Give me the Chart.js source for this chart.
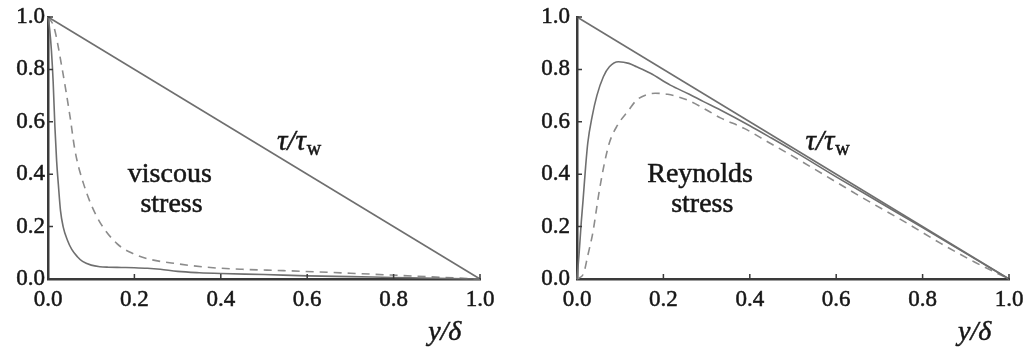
<!DOCTYPE html>
<html>
<head>
<meta charset="utf-8">
<script src="https://cdn.jsdelivr.net/npm/chart.js@4.4.1/dist/chart.umd.min.js"></script>
<style>
  html, body { margin: 0; padding: 0; background: #fff; }
  #wrap { position: relative; width: 1027px; height: 349px; overflow: hidden; }
  .panel { position: absolute; top: 0; }
  canvas { display: block; }
</style>
</head>
<body>
<div id="wrap">
  <div class="panel" style="left:0px"><canvas id="left" width="512" height="349"></canvas></div>
  <div class="panel" style="left:529px"><canvas id="right" width="512" height="349"></canvas></div>
</div>
<script>
// Axis ticks (y/δ and stress ratio share the same 0..1 range)
const tickValues = [0.0, 0.2, 0.4, 0.6, 0.8, 1.0];

// Total shear stress τ/τw, linear across the layer
const totalX = [0.0, 1.0];
const totalY = [1.0, 0.0];

// Viscous stress, higher Reynolds number (solid)
const viscSolidX = [0, 0.004, 0.008, 0.012, 0.016, 0.02, 0.024, 0.029, 0.035, 0.045, 0.055, 0.068, 0.08, 0.1, 0.12, 0.14, 0.17, 0.2, 0.23, 0.26, 0.3, 0.35, 0.4, 0.5, 0.6, 0.7, 0.8, 0.9, 1.0];
const viscSolidY = [1.0, 0.95, 0.87, 0.75, 0.58, 0.45, 0.36, 0.26, 0.2, 0.148, 0.113, 0.085, 0.067, 0.053, 0.047, 0.045, 0.044, 0.043, 0.041, 0.037, 0.029, 0.024, 0.021, 0.017, 0.012, 0.009, 0.006, 0.003, 0.0];

// Viscous stress, lower Reynolds number (dashed)
const viscDashX = [0, 0.014, 0.032, 0.051, 0.0625, 0.082, 0.113, 0.159, 0.2, 0.236, 0.3, 0.367, 0.45, 0.545, 0.7, 0.85, 1.0];
const viscDashY = [1.0, 0.96, 0.81, 0.62, 0.49, 0.365, 0.238, 0.136, 0.095, 0.075, 0.058, 0.045, 0.037, 0.032, 0.022, 0.011, 0.0];

// Reynolds stress, higher Reynolds number (solid)
const reySolidX = [0, 0.005, 0.01, 0.014, 0.02, 0.025, 0.035, 0.046, 0.061, 0.075, 0.096, 0.12, 0.138, 0.17, 0.216, 0.26, 0.293, 0.332, 0.4, 0.45, 0.5, 0.6, 0.7, 0.8, 0.9, 1.0];
const reySolidY = [0, 0.1, 0.22, 0.3, 0.43, 0.52, 0.62, 0.7, 0.772, 0.81, 0.829, 0.823, 0.81, 0.785, 0.74, 0.705, 0.677, 0.645, 0.585, 0.538, 0.49, 0.39, 0.293, 0.196, 0.098, 0.0];

// Reynolds stress, lower Reynolds number (dashed)
const reyDashX = [0, 0.015, 0.025, 0.037, 0.05, 0.062, 0.075, 0.093, 0.12, 0.138, 0.16, 0.181, 0.21, 0.26, 0.3, 0.332, 0.387, 0.44, 0.5, 0.6, 0.657, 0.765, 0.842, 0.92, 1.0];
const reyDashY = [0, 0.02, 0.09, 0.18, 0.32, 0.43, 0.52, 0.585, 0.645, 0.683, 0.703, 0.709, 0.705, 0.68, 0.645, 0.615, 0.575, 0.525, 0.468, 0.37, 0.314, 0.212, 0.136, 0.065, 0.0];

const SERIF = "'Liberation Serif', 'DejaVu Serif', serif";
const AXIS_COLOR = '#3a3a3a';
const TEXT_COLOR = '#161616';

function pts(xs, ys) { return xs.map((x, i) => ({ x: x, y: ys[i] })); }

function lineSet(xs, ys, dashed, color) {
  return {
    data: pts(xs, ys),
    borderColor: color,
    borderWidth: 1.6,
    borderDash: dashed ? [8, 6] : [],
    pointRadius: 0,
    fill: false,
    cubicInterpolationMode: 'monotone',
    clip: false
  };
}

function heavyText(ctx, text, x, y) {
  ctx.strokeText(text, x, y);
  ctx.fillText(text, x, y);
}

// Short inward tick marks on both axes plus the text annotations
const decorPlugin = {
  id: 'decor',
  afterDraw(chart, args, opts) {
    const ctx = chart.ctx;
    const xs = chart.scales.x, ys = chart.scales.y;
    const x0 = xs.getPixelForValue(0), y0 = ys.getPixelForValue(0);
    ctx.save();
    ctx.strokeStyle = AXIS_COLOR;
    ctx.lineWidth = 1.5;
    ctx.beginPath();
    tickValues.forEach(v => {
      if (v === 0) return;
      const px = xs.getPixelForValue(v);
      ctx.moveTo(px, y0); ctx.lineTo(px, y0 - 5);
      const py = ys.getPixelForValue(v);
      ctx.moveTo(x0, py); ctx.lineTo(x0 + 5, py);
    });
    ctx.stroke();

    ctx.fillStyle = TEXT_COLOR;
    ctx.strokeStyle = TEXT_COLOR;
    ctx.lineWidth = 0.5;
    // region label (two centred lines)
    ctx.textAlign = 'center';
    ctx.textBaseline = 'middle';
    ctx.font = '28px ' + SERIF;
    opts.region.forEach(r => {
      heavyText(ctx, r.text, xs.getPixelForValue(r.x), ys.getPixelForValue(r.y));
    });

    // τ/τw label
    ctx.textAlign = 'left';
    ctx.textBaseline = 'alphabetic';
    let tx = xs.getPixelForValue(opts.tau.x);
    const ty = ys.getPixelForValue(opts.tau.y);
    ctx.font = 'italic 29px ' + SERIF;
    heavyText(ctx, 'τ/τ', tx, ty);
    tx += ctx.measureText('τ/τ').width + 1;
    ctx.font = '20px ' + SERIF;
    heavyText(ctx, 'w', tx, ty + 5);

    // axis variable y/δ
    ctx.font = 'italic 28px ' + SERIF;
    heavyText(ctx, 'y/δ', xs.getPixelForValue(opts.axisLabel.x), ys.getPixelForValue(opts.axisLabel.y));
    ctx.restore();
  }
};

function makeChart(id, datasets, labelPad, decor) {
  const tickFont = { family: SERIF, size: 23 };
  return new Chart(document.getElementById(id), {
    type: 'line',
    data: { datasets: datasets },
    plugins: [decorPlugin],
    options: {
      responsive: false,
      animation: false,
      events: [],
      layout: { padding: { left: 0, right: 32, top: 17, bottom: 0 } },
      plugins: { legend: { display: false }, tooltip: { enabled: false }, decor: decor },
      scales: {
        x: {
          type: 'linear', min: 0, max: 1,
          afterBuildTicks: s => { s.ticks = tickValues.map(v => ({ value: v })); },
          afterFit: s => { s.height = 70; },
          grid: { display: false, drawTicks: false },
          border: { display: true, color: AXIS_COLOR, width: 2.5 },
          ticks: {
            padding: 7, color: TEXT_COLOR, maxRotation: 0, autoSkip: false,
            textStrokeColor: TEXT_COLOR, textStrokeWidth: 0.5,
            font: tickFont,
            callback: v => v.toFixed(1)
          }
        },
        y: {
          type: 'linear', min: 0, max: 1,
          afterBuildTicks: s => { s.ticks = tickValues.map(v => ({ value: v })); },
          // fixed axis width; the plot top is set by the layout padding alone
          afterFit: s => { s.width = 48; s.paddingTop = 0; s.paddingBottom = 0; },
          grid: { display: false, drawTicks: false },
          border: { display: true, color: AXIS_COLOR, width: 2.5 },
          ticks: {
            padding: labelPad, color: TEXT_COLOR, autoSkip: false,
            textStrokeColor: TEXT_COLOR, textStrokeWidth: 0.5,
            font: tickFont,
            callback: v => v.toFixed(1)
          }
        }
      }
    }
  });
}

const LINE_SOLID = '#6f6f6f';
const LINE_DASH = '#8c8c8c';

makeChart('left', [
  lineSet(totalX, totalY, false, LINE_SOLID),
  lineSet(viscSolidX, viscSolidY, false, LINE_SOLID),
  lineSet(viscDashX, viscDashY, true, LINE_DASH)
], 3, {
  region: [{ text: 'viscous', x: 0.282, y: 0.397 }, { text: 'stress', x: 0.286, y: 0.282 }],
  tau: { x: 0.53, y: 0.492 },
  axisLabel: { x: 0.88, y: -0.233 }
});

makeChart('right', [
  lineSet(totalX, totalY, false, LINE_SOLID),
  lineSet(reySolidX, reySolidY, false, LINE_SOLID),
  lineSet(reyDashX, reyDashY, true, LINE_DASH)
], 7, {
  region: [{ text: 'Reynolds', x: 0.285, y: 0.397 }, { text: 'stress', x: 0.29, y: 0.282 }],
  tau: { x: 0.529, y: 0.492 },
  axisLabel: { x: 0.882, y: -0.233 }
});
</script>
</body>
</html>
